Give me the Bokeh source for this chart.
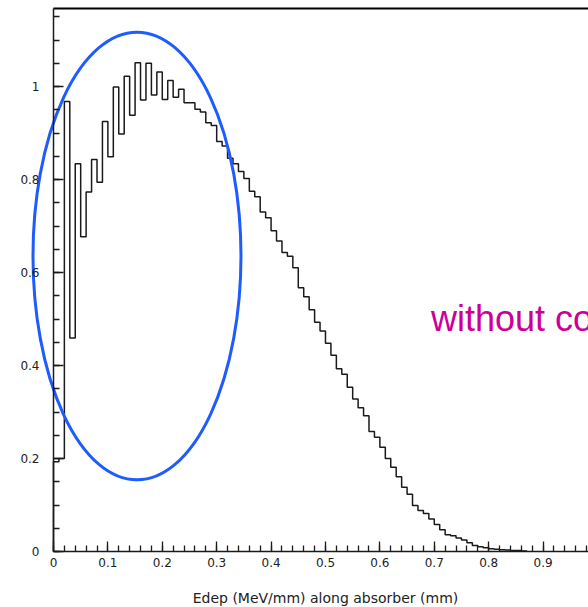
import numpy as np
from bokeh.plotting import figure
from bokeh.models import FixedTicker, Label, Range1d
from bokeh.embed import file_html
from bokeh.resources import INLINE

# Energy deposit profile along the absorber, normalised, 0.01 mm bins
bin_width = 0.01
edep_values = [
    0.193, 0.200, 0.968, 0.459, 0.834, 0.677, 0.773, 0.843, 0.794, 0.925,
    0.849, 0.999, 0.898, 1.022, 0.938, 1.051, 0.971, 1.050, 0.982, 1.031,
    0.972, 1.013, 0.977, 0.994, 0.965, 0.965, 0.951, 0.945, 0.922, 0.916,
    0.882, 0.872, 0.846, 0.834, 0.817, 0.802, 0.775, 0.763, 0.730, 0.718,
    0.690, 0.668, 0.643, 0.635, 0.610, 0.567, 0.548, 0.520, 0.493, 0.474,
    0.448, 0.422, 0.393, 0.381, 0.353, 0.328, 0.309, 0.292, 0.258, 0.246,
    0.224, 0.200, 0.181, 0.161, 0.138, 0.123, 0.099, 0.088, 0.082, 0.070,
    0.058, 0.047, 0.036, 0.034, 0.029, 0.025, 0.019, 0.013, 0.010, 0.008,
    0.006, 0.005, 0.004, 0.003, 0.002, 0.002, 0.001,
]
bin_edges = np.round(np.arange(len(edep_values) + 1) * bin_width, 2)

x_ticks = [0.0, 0.1, 0.2, 0.3, 0.4, 0.5, 0.6, 0.7, 0.8, 0.9]
x_tick_labels = ["0", "0.1", "0.2", "0.3", "0.4", "0.5", "0.6", "0.7", "0.8", "0.9"]
y_ticks = [0.0, 0.2, 0.4, 0.6, 0.8, 1.0]
y_tick_labels = ["0", "0.2", "0.4", "0.6", "0.8", "1"]

x_title = "Edep (MeV/mm) along absorber (mm)"
note_text = "without co"

# highlighted region (ellipse around the entrance region)
ring_center = (0.1535, 0.6355)
ring_size = (0.3824, 0.9626)

# the frame fills the whole canvas; the axes sit at x=0 and y=0 inside it,
# so the ring and the tick labels are not cut by the frame
x_lo, x_hi = -0.0974, 0.9835
y_lo, y_hi = -0.1204, 1.1850
frame_top = 1.168

# outline of the histogram as a step path
vals = np.asarray(edep_values)
step_x = np.concatenate([[bin_edges[0]], np.repeat(bin_edges, 2)[1:-1], [bin_edges[-1]]])
step_y = np.concatenate([[0.0], np.repeat(vals, 2), [0.0]])

p = figure(
    width=588, height=607,
    x_range=Range1d(x_lo, x_hi), y_range=Range1d(y_lo, y_hi),
    output_backend="svg", toolbar_location=None,
    min_border_left=0, min_border_right=0, min_border_top=0, min_border_bottom=0,
)
p.xgrid.visible = False
p.ygrid.visible = False
p.outline_line_color = None
p.background_fill_color = "white"
p.border_fill_color = "white"

p.line(step_x, step_y, line_color="#1a1a1a", line_width=1.5)

# top edge of the frame
p.segment(x0=[0.0], y0=[frame_top], x1=[x_hi], y1=[frame_top], line_color="black", line_width=2)

p.ellipse(x=[ring_center[0]], y=[ring_center[1]], width=[ring_size[0]], height=[ring_size[1]],
          fill_color=None, line_color="#1f5cff", line_width=3)

p.add_layout(Label(x=0.694, y=0.501, text=note_text, text_color="#cc0099",
                   text_font="Liberation Sans", text_font_size="36px",
                   text_baseline="alphabetic", text_align="left"))

# axis title, centred under the plotted span
p.add_layout(Label(x=0.5, y=-0.0989, text=x_title, text_color="#222222",
                   text_font="DejaVu Sans", text_font_size="14px",
                   text_baseline="middle", text_align="center"))

xa = p.xaxis[0]
xa.ticker = FixedTicker(ticks=x_ticks, minor_ticks=list(np.round(np.arange(0, 0.99, 0.02), 2)))
xa.major_label_overrides = dict(zip(x_ticks, x_tick_labels))
xa.fixed_location = 0.0
xa.bounds = (0.0, x_hi)
ya = p.yaxis[0]
ya.ticker = FixedTicker(ticks=y_ticks, minor_ticks=list(np.round(np.arange(0, 1.17, 0.05), 2)))
ya.major_label_overrides = dict(zip(y_ticks, y_tick_labels))
ya.fixed_location = 0.0
ya.bounds = (0.0, frame_top)

for ax in (xa, ya):
    ax.axis_line_color = "#1a1a1a"
    ax.axis_line_width = 1.5
    ax.major_tick_line_color = "#1a1a1a"
    ax.minor_tick_line_color = "#1a1a1a"
    ax.major_tick_line_width = 1.3
    ax.minor_tick_line_width = 1.3
    ax.major_tick_in = 10
    ax.major_tick_out = 0
    ax.minor_tick_in = 6
    ax.minor_tick_out = 0
    ax.major_label_text_font = "DejaVu Sans"
    ax.major_label_text_font_size = "12px"
    ax.major_label_text_color = "#222222"

xa.major_label_standoff = 6
ya.major_label_standoff = 14

open("out.html", "w").write(file_html(p, INLINE))
